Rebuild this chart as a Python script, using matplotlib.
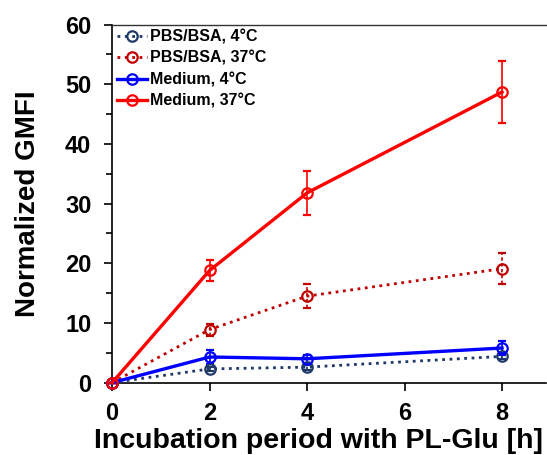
import matplotlib.pyplot as plt
from matplotlib.lines import Line2D
from matplotlib.ticker import MultipleLocator

plt.rcParams['font.family'] = ['Liberation Sans', 'DejaVu Sans']
plt.rcParams['font.weight'] = 'bold'

# incubation times [h]
hours = [0, 2, 4, 8]

# normalized GMFI per condition, with error bars
pbs_4 = [0, 2.3, 2.6, 4.4]
pbs_4_err = [0, 0.4, 0.4, 0.5]
pbs_37 = [0, 8.9, 14.5, 19.1]
pbs_37_err = [0, 1.0, 2.0, 2.6]
med_4 = [0, 4.3, 4.0, 5.8]
med_4_err = [0, 1.2, 0.7, 1.2]
med_37 = [0, 18.8, 31.8, 48.7]
med_37_err = [0, 1.8, 3.7, 5.2]

fig = plt.figure(figsize=(5.47, 4.55), dpi=100)
ax = fig.add_axes([0.205, 0.159, 0.793, 0.787])

series = [
    (pbs_4, pbs_4_err, 'PBS/BSA, 4°C', '#1f3a68', ':'),
    (pbs_37, pbs_37_err, 'PBS/BSA, 37°C', '#c00000', ':'),
    (med_4, med_4_err, 'Medium, 4°C', '#0000ff', '-'),
    (med_37, med_37_err, 'Medium, 37°C', '#ff0000', '-'),
]
handles = []
for vals, errs, label, col, ls in series:
    lw = 2.0 if ls == ':' else 2.4
    eb = ax.errorbar(hours, vals, yerr=errs, color=col, ls=ls, lw=lw,
                     marker='o', ms=7.5, mfc='none', mec=col, mew=1.6,
                     ecolor=col, elinewidth=1.2, capsize=3, capthick=1.2,
                     clip_on=False, zorder=3)
    for c in eb[1] + eb[2]:
        c.set_clip_on(False)
    if ls == ':':
        eb[2][0].set_linestyle((0, (2, 1.5)))
    handles.append(Line2D([], [], color=col, ls=ls, lw=lw, marker='o', ms=7.5,
                          mfc='none', mec=col, mew=1.6, label=label))

ax.set_xlim(0, 8.9)
ax.set_ylim(0, 60)
ax.xaxis.set_major_locator(MultipleLocator(2))
ax.yaxis.set_major_locator(MultipleLocator(10))
ax.yaxis.set_minor_locator(MultipleLocator(5))
ax.tick_params(which='major', length=6, width=1.2, labelsize=17)
ax.tick_params(axis='x', which='major', pad=8)
ax.tick_params(axis='y', which='major', pad=9)
ax.tick_params(which='minor', length=4, width=1.2)
ax.spines['right'].set_visible(False)
for s in ['left', 'bottom']:
    ax.spines[s].set_linewidth(1.2)
ax.spines['top'].set_linewidth(1.0)
ax.spines['top'].set_color('#333333')

ax.set_xlabel('Incubation period with PL-Glu [h]', fontsize=20.5, fontweight='bold')
ax.xaxis.set_label_coords(0.475, -0.127)
ax.set_ylabel('Normalized GMFI', fontsize=20, fontweight='bold', labelpad=17)

ax.legend(handles=handles, loc='upper left', frameon=False, fontsize=11.5,
          handlelength=1.9, handletextpad=0.2, labelspacing=0.4,
          borderaxespad=0.1, borderpad=0.2, bbox_to_anchor=(0.0, 1.0))

fig.savefig('out.png', dpi=100)
